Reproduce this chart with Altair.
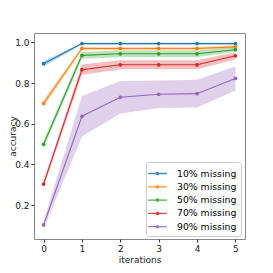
import altair as alt
import pandas as pd

iterations = [0, 1, 2, 3, 4, 5]
series = ["10% missing", "30% missing", "50% missing", "70% missing", "90% missing"]
colors = ["#1f77b4", "#ff7f0e", "#2ca02c", "#d62728", "#9467bd"]

mean_10 = [0.895, 0.994, 0.994, 0.994, 0.994, 0.994]
mean_30 = [0.700, 0.970, 0.970, 0.970, 0.970, 0.978]
mean_50 = [0.499, 0.936, 0.944, 0.944, 0.944, 0.964]
mean_70 = [0.304, 0.866, 0.890, 0.890, 0.890, 0.934]
mean_90 = [0.103, 0.637, 0.730, 0.745, 0.748, 0.823]

err_10 = [0.014, 0.004, 0.004, 0.004, 0.004, 0.004]
err_30 = [0.018, 0.008, 0.008, 0.008, 0.008, 0.008]
err_50 = [0.020, 0.017, 0.017, 0.017, 0.017, 0.010]
err_70 = [0.015, 0.025, 0.022, 0.022, 0.022, 0.018]
err_90 = [0.020, 0.100, 0.080, 0.068, 0.068, 0.060]

means = [mean_10, mean_30, mean_50, mean_70, mean_90]
errs = [err_10, err_30, err_50, err_70, err_90]

rows = []
for s, m, e in zip(series, means, errs):
    for it, mv, ev in zip(iterations, m, e):
        rows.append({"series": s, "iteration": it, "acc": mv, "lo": mv - ev, "hi": mv + ev})
df = pd.DataFrame(rows)

font = "DejaVu Sans"

xs = alt.Scale(domain=[-0.25, 5.25], nice=False, zero=False)
ys = alt.Scale(domain=[0.034, 1.046], nice=False, zero=False)
cs = alt.Scale(domain=series, range=colors)

x_enc = alt.X("iteration:Q", scale=xs,
              axis=alt.Axis(values=iterations, format="d", title="iterations", grid=False,
                            labelFontSize=9, titleFontSize=9, titleFontWeight="normal",
                            tickSize=3, titlePadding=2, labelPadding=2, labelFlush=False))
y_enc = alt.Y("acc:Q", scale=ys,
              axis=alt.Axis(values=[0.2, 0.4, 0.6, 0.8, 1.0], format=".1f", title="accuracy", grid=False,
                            labelFontSize=9, titleFontSize=9, titleFontWeight="normal",
                            tickSize=3, labelPadding=2, labelFlush=False,
                            titleX=-22, titleBaseline="middle", titleAlign="center"))

legend = alt.Legend(title=None, orient="none", legendX=112, legendY=129,
                    symbolType="M-1.4,0H1.4M-0.17,0A0.17,0.17,0,1,0,0.17,0A0.17,0.17,0,1,0,-0.17,0",
                    symbolSize=180, symbolStrokeWidth=1.3, symbolOpacity=0.85,
                    labelFontSize=9.3, labelFont=font, rowPadding=0.3,
                    fillColor="white", strokeColor="#cccccc", cornerRadius=3,
                    padding=4, labelOffset=12)
color_enc = alt.Color("series:N", scale=cs, sort=series, legend=legend)

band = alt.Chart(df).mark_area(opacity=0.3).encode(
    x=alt.X("iteration:Q", scale=xs),
    y=alt.Y("lo:Q", scale=ys, stack=None),
    y2="hi:Q",
    color=color_enc,
    detail="series:N",
)

line = alt.Chart(df).mark_line(strokeWidth=1.1).encode(
    x=x_enc,
    y=y_enc,
    color=color_enc,
)

pts = alt.Chart(df).mark_circle(size=14, opacity=1).encode(
    x=alt.X("iteration:Q", scale=xs),
    y=alt.Y("acc:Q", scale=ys),
    color=color_enc,
)

chart = alt.layer(band, line, pts).properties(
    width=211, height=206,
    padding={"left": 26, "top": 25, "right": 20, "bottom": 26},
    autosize=alt.AutoSizeParams(type="none"),
).configure(font=font).configure_view(stroke="#888888", strokeWidth=1).configure_axis(
    domain=False, tickColor="#333333", labelColor="#222222", titleColor="#222222"
)

chart.save("out.html", embed_options={"renderer": "svg", "actions": False})
